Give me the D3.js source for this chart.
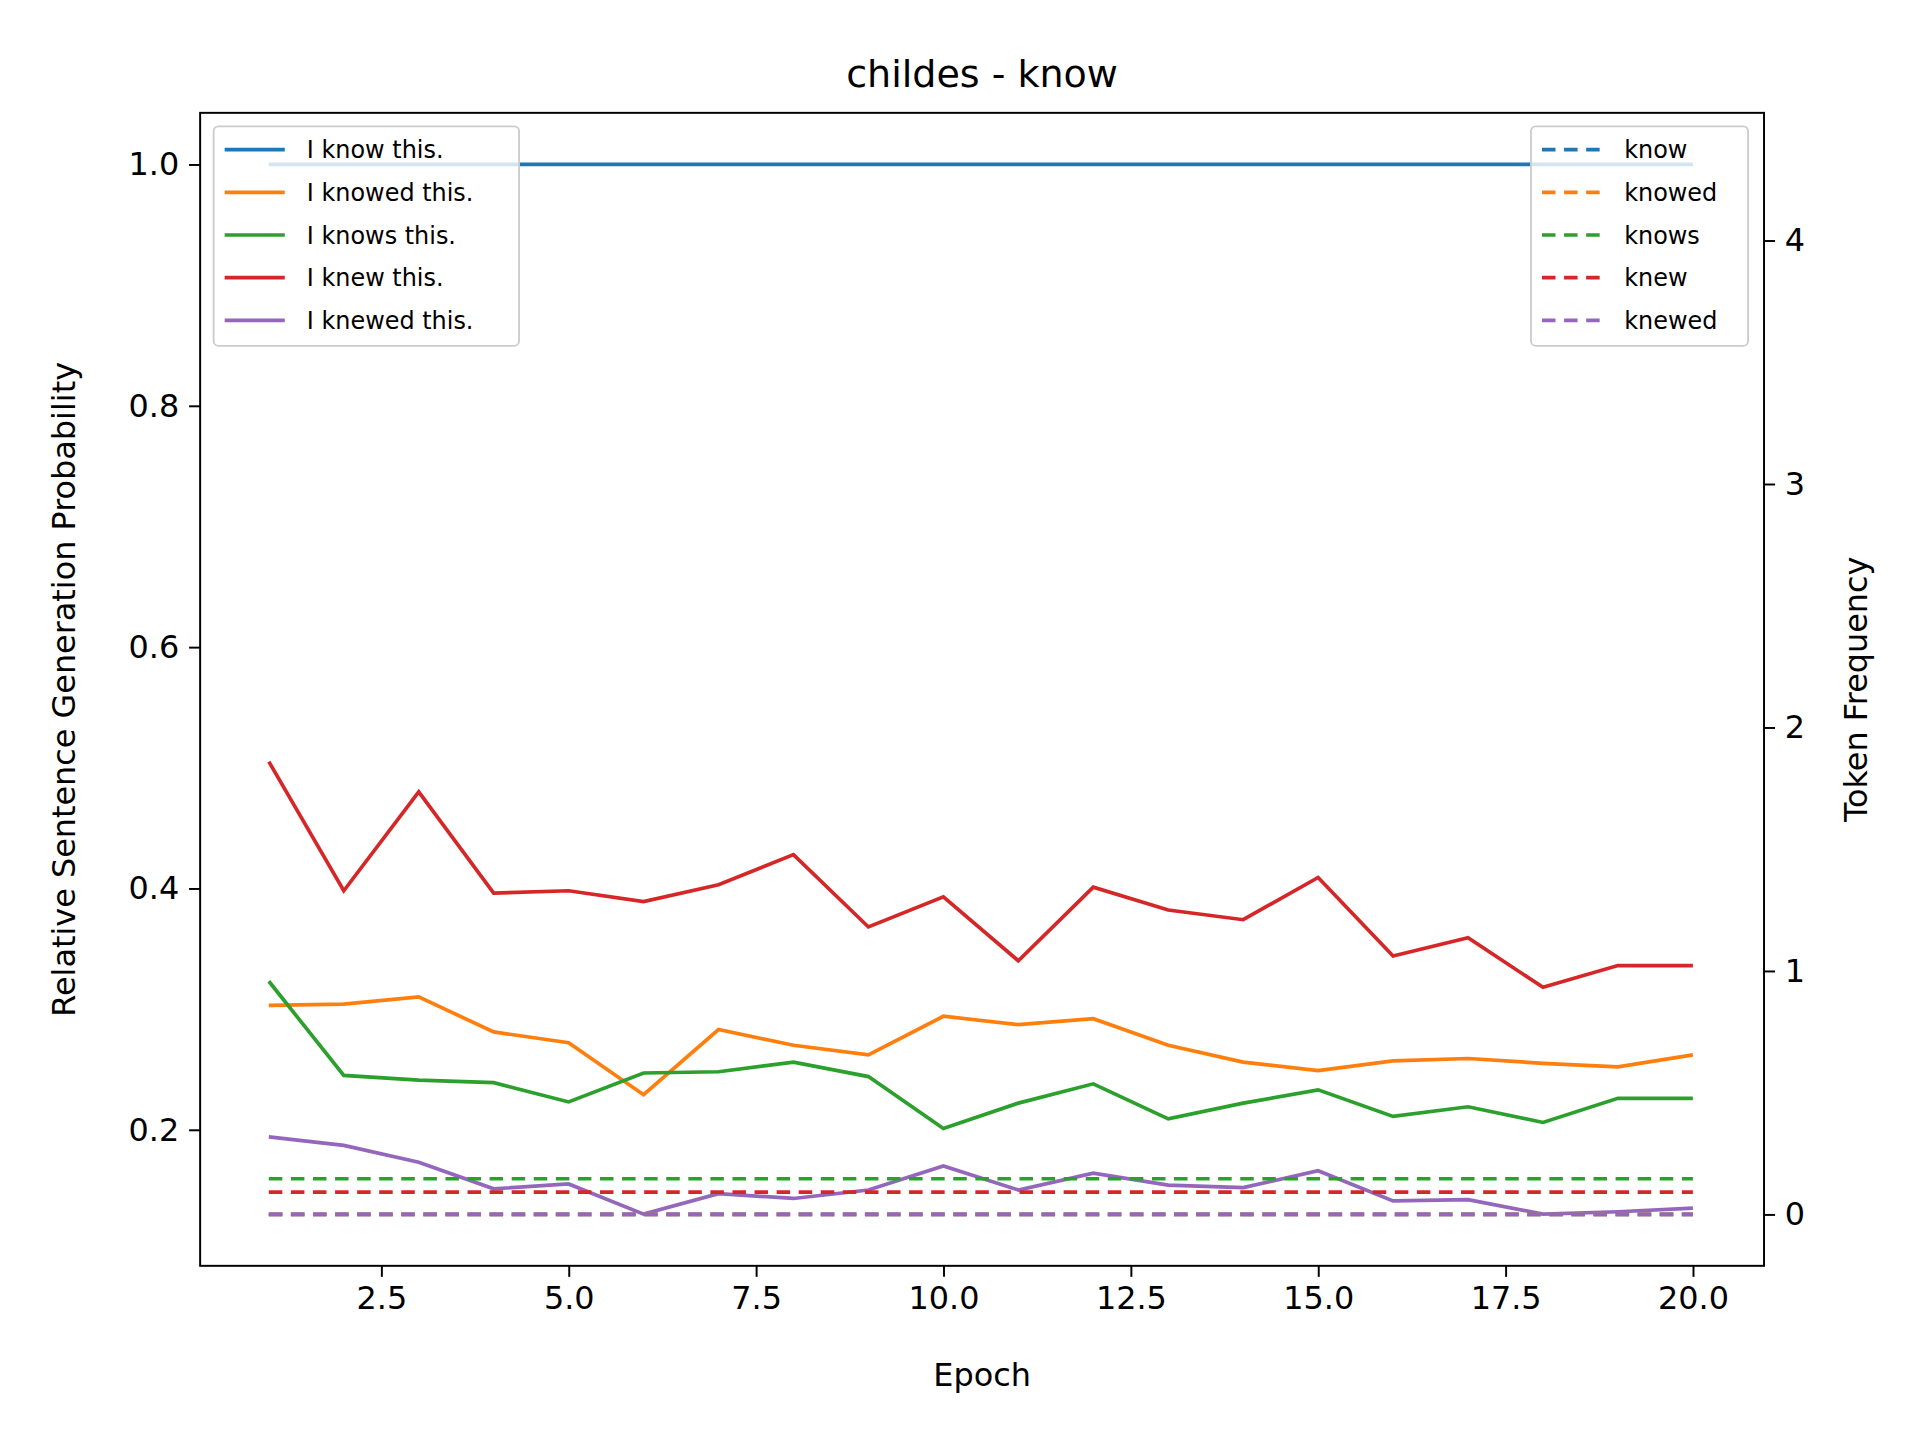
<!DOCTYPE html>
<html><head><meta charset="utf-8">
<script src="https://cdn.jsdelivr.net/npm/d3@7"></script>
<style>body{margin:0;background:#fff}text{font-family:"DejaVu Sans",sans-serif}</style>
</head><body><div id="chart"></div>
<script>
//DATA
const epochs = d3.range(1, 21);
const sentences = ["I know this.", "I knowed this.", "I knows this.", "I knew this.", "I knewed this."];
const tokens = ["know", "knowed", "knows", "knew", "knewed"];
const colors = ["#1f77b4", "#ff7f0e", "#2ca02c", "#d62728", "#9467bd"];
const probKnow = epochs.map(() => 1.0);
const probKnowed = [0.303,0.304,0.310,0.281,0.272,0.229,0.283,0.270,0.262,0.294,0.287,0.292,0.270,0.256,0.249,0.257,0.259,0.255,0.252,0.262];
const probKnows = [0.323,0.245,0.241,0.239,0.223,0.247,0.248,0.256,0.244,0.201,0.222,0.238,0.209,0.222,0.233,0.211,0.219,0.206,0.226,0.226];
const probKnew = [0.505,0.398,0.480,0.396,0.398,0.389,0.403,0.428,0.368,0.393,0.340,0.401,0.382,0.374,0.409,0.344,0.359,0.318,0.336,0.336];
const probKnewed = [0.194,0.187,0.173,0.151,0.155,0.130,0.147,0.143,0.150,0.170,0.150,0.164,0.154,0.152,0.166,0.141,0.142,0.130,0.132,0.135];
const freqs = [0, 0, 0.146, 0.091, 0];
const xTicks = [2.5, 5, 7.5, 10, 12.5, 15, 17.5, 20];
const yTicks = [0.2, 0.4, 0.6, 0.8, 1.0];
const y2Ticks = [0, 1, 2, 3, 4];

const probs = [probKnow, probKnowed, probKnows, probKnew, probKnewed];

//DIMENSIONS (drawn in 1565x1174 units, scaled to 1920x1440)
const L = 163, R = 1438, T = 92, B = 1032;

const svg = d3.select("#chart").append("svg")
  .attr("width", 1920).attr("height", 1440)
  .attr("viewBox", "0 0 1565 1174");

const x = d3.scaleLinear().domain([1, 20]).range([219, 1380]);
const y = d3.scaleLinear().domain([0.2, 1.0]).range([921, 134]);
const y2 = d3.scaleLinear().domain([0, 4]).range([990, 196]);

//AXES
const fs = 26;
const xa = svg.append("g").attr("transform", `translate(0,${B})`)
  .call(d3.axisBottom(x).tickValues(xTicks).tickFormat(d3.format(".1f")).tickSize(9).tickPadding(8));
const ya = svg.append("g").attr("transform", `translate(${L},0)`)
  .call(d3.axisLeft(y).tickValues(yTicks).tickFormat(d3.format(".1f")).tickSize(9).tickPadding(8));
const y2a = svg.append("g").attr("transform", `translate(${R},0)`)
  .call(d3.axisRight(y2).tickValues(y2Ticks).tickFormat(d3.format("d")).tickSize(9).tickPadding(8));
[xa, ya, y2a].forEach(a => {
  a.select(".domain").remove();
  a.selectAll("line").attr("stroke", "#000").attr("stroke-width", 1.6);
  a.selectAll("text").attr("font-size", fs).attr("font-family", "DejaVu Sans").attr("fill", "#000");
});

//LINES
const line = d3.line().x((d, i) => x(epochs[i])).y(d => y(d));
probs.forEach((p, i) => {
  svg.append("path").datum(p).attr("d", line)
    .attr("fill", "none").attr("stroke", colors[i]).attr("stroke-width", 3);
});
freqs.forEach((f, i) => {
  svg.append("line").attr("x1", x(1)).attr("x2", x(20))
    .attr("y1", y2(f)).attr("y2", y2(f))
    .attr("stroke", colors[i]).attr("stroke-width", 3).attr("stroke-dasharray", "11,7");
});

//FRAME
svg.append("rect").attr("x", L).attr("y", T).attr("width", R - L).attr("height", B - T)
  .attr("fill", "none").attr("stroke", "#000").attr("stroke-width", 1.6);

//LABELS
svg.append("text").attr("x", (L + R) / 2).attr("y", 71).attr("text-anchor", "middle")
  .attr("font-size", 31).text("childes - know");
svg.append("text").attr("x", (L + R) / 2).attr("y", 1130).attr("text-anchor", "middle")
  .attr("font-size", fs).text("Epoch");
svg.append("text").attr("transform", `translate(61,${(T + B) / 2}) rotate(-90)`)
  .attr("text-anchor", "middle").attr("font-size", fs).text("Relative Sentence Generation Probability");
svg.append("text").attr("transform", `translate(1522,${(T + B) / 2}) rotate(-90)`)
  .attr("text-anchor", "middle").attr("font-size", fs).text("Token Frequency");

//LEGENDS
function legend(x0, w, labels, dashed) {
  const g = svg.append("g");
  g.append("rect").attr("x", x0).attr("y", 103).attr("width", w).attr("height", 179).attr("rx", 4)
    .attr("fill", "#fff").attr("fill-opacity", 0.8).attr("stroke", "#ccc").attr("stroke-width", 1.5);
  labels.forEach((l, i) => {
    const yy = 122 + i * 34.8;
    g.append("line").attr("x1", x0 + 9).attr("x2", x0 + 58).attr("y1", yy).attr("y2", yy)
      .attr("stroke", colors[i]).attr("stroke-width", 3).attr("stroke-dasharray", dashed ? "11,7" : null);
    g.append("text").attr("x", x0 + 76).attr("y", yy + 7).attr("font-size", 19.5).text(l);
  });
}
legend(174, 249, sentences, false);
legend(1248, 177, tokens, true);
</script></body></html>
